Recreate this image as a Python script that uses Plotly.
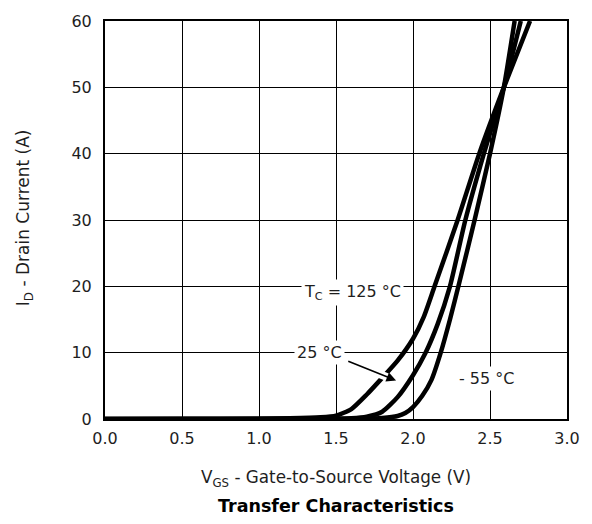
import plotly.graph_objects as go

# Data
v_125 = [0, 0.5, 1.0, 1.2, 1.4, 1.5, 1.6, 1.7, 1.8, 1.9, 2.0, 2.07, 2.14, 2.29, 2.43, 2.59, 2.76]
i_125 = [0, 0.02, 0.05, 0.1, 0.25, 0.5, 1.5, 3.7, 6.2, 8.8, 12.1, 15.4, 20, 30, 40, 50, 60]

v_25 = [0, 0.5, 1.0, 1.5, 1.6, 1.7, 1.8, 1.9, 2.0, 2.08, 2.16, 2.24, 2.34, 2.46, 2.59, 2.70]
i_25 = [0, 0.01, 0.02, 0.05, 0.1, 0.35, 1.1, 3.3, 6.6, 9.9, 14.3, 20, 30, 40, 50, 60]

v_m55 = [0, 0.5, 1.0, 1.5, 1.7, 1.8, 1.9, 1.95, 2.0, 2.06, 2.12, 2.18, 2.24, 2.30, 2.40, 2.50, 2.59, 2.66]
i_m55 = [0, 0, 0.01, 0.02, 0.05, 0.15, 0.45, 0.9, 1.8, 3.5, 5.9, 10.0, 15.0, 20.5, 30, 40, 50, 60]

x_ticks = [0.0, 0.5, 1.0, 1.5, 2.0, 2.5, 3.0]
x_tick_labels = ["0.0", "0.5", "1.0", "1.5", "2.0", "2.5", "3.0"]
y_ticks = [0, 10, 20, 30, 40, 50, 60]

FONT = "DejaVu Sans, Verdana, sans-serif"
TXT = "#1e1e1e"

fig = go.Figure()
for v, i, name in [(v_125, i_125, "125 °C"), (v_25, i_25, "25 °C"), (v_m55, i_m55, "-55 °C")]:
    fig.add_trace(go.Scatter(x=v, y=i, mode="lines", name=name,
                             line=dict(color="black", width=4.5, shape="spline", smoothing=0.6),
                             hoverinfo="skip"))

# white gap in 125 °C curve where the arrow crosses
fig.add_shape(type="line", x0=1.77, y0=6.9, x1=1.86, y1=6.05, xref="x", yref="y",
              line=dict(color="white", width=8), layer="above")

labels = [
    dict(x=1.61, y=19.0, text="T<sub>C</sub> = 125 °C"),
    dict(x=1.39, y=10.1, text="25 °C"),
    dict(x=2.48, y=6.1, text="- 55 °C"),
]
for a in labels:
    fig.add_annotation(x=a["x"], y=a["y"], text=a["text"], showarrow=False,
                       xref="x", yref="y", bgcolor="white", borderpad=2,
                       xanchor="center", yanchor="middle",
                       font=dict(family=FONT, size=16, color=TXT))

fig.add_annotation(x=1.89, y=5.8, ax=1.57, ay=8.8, xref="x", yref="y", axref="x", ayref="y",
                   text="", showarrow=True, arrowhead=2, arrowsize=1.2, arrowwidth=1.6,
                   arrowcolor="black")

fig.update_layout(
    width=592, height=524,
    margin=dict(l=105, r=21, t=17, b=105),
    plot_bgcolor="white", paper_bgcolor="white",
    showlegend=False,
    font=dict(family=FONT, size=16, color=TXT),
    xaxis=dict(range=[0, 3], tickvals=x_ticks, ticktext=x_tick_labels,
               showgrid=True, gridcolor="black", gridwidth=1,
               showline=True, linecolor="black", linewidth=2, mirror=True,
               zeroline=False, ticks="", tickfont=dict(size=16), ticklabelstandoff=4),
    yaxis=dict(range=[0, 60], tickvals=y_ticks,
               showgrid=True, gridcolor="black", gridwidth=1,
               showline=True, linecolor="black", linewidth=2, mirror=True,
               zeroline=False, ticks="", tickfont=dict(size=16), ticklabelstandoff=8),
)

# axis titles and chart title placed as paper annotations
fig.add_annotation(x=0.5, y=-0.149, xref="paper", yref="paper", xanchor="center", yanchor="middle",
                   text="V<sub>GS</sub> - Gate-to-Source Voltage (V)", showarrow=False,
                   font=dict(family=FONT, size=16.8, color=TXT))
fig.add_annotation(x=-0.175, y=0.505, xref="paper", yref="paper", xanchor="center", yanchor="middle",
                   text="I<sub>D</sub> - Drain Current (A)", showarrow=False, textangle=-90,
                   font=dict(family=FONT, size=17, color=TXT))
fig.add_annotation(x=0.5, y=-0.219, xref="paper", yref="paper", xanchor="center", yanchor="middle",
                   text="<b>Transfer Characteristics</b>", showarrow=False,
                   font=dict(family=FONT, size=17.5, color="black"))

fig.write_html("out.html")
